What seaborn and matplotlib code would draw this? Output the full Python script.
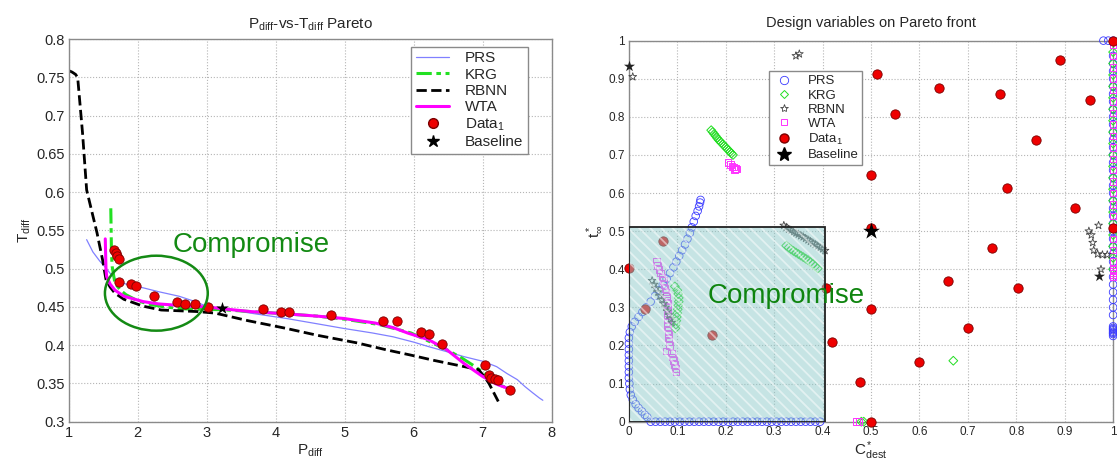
import matplotlib
matplotlib.use("Agg")
import matplotlib.pyplot as plt
import seaborn as sns
import pandas as pd
from matplotlib.lines import Line2D
from matplotlib.patches import Ellipse, Rectangle
from matplotlib.ticker import FormatStrFormatter, MultipleLocator

# ---------------- Left panel data: P_diff vs T_diff ----------------
prs_x = [1.26, 1.35, 1.45, 1.52, 1.60, 1.72, 1.90, 2.08, 2.30, 2.60, 2.80, 3.00, 3.30, 3.63, 4.15, 4.60,
         4.98, 5.40, 5.70, 6.00, 6.22, 6.50, 6.73, 7.00, 7.20, 7.35, 7.50, 7.61, 7.72, 7.82, 7.87]
prs_y = [0.538, 0.522, 0.510, 0.503, 0.494, 0.483, 0.478, 0.475, 0.470, 0.464, 0.458, 0.451, 0.447, 0.442,
         0.435, 0.428, 0.422, 0.416, 0.411, 0.404, 0.398, 0.391, 0.385, 0.379, 0.372, 0.363, 0.355, 0.346,
         0.338, 0.331, 0.328]

krg_x = [1.61, 1.615, 1.62, 1.63, 1.67, 1.75, 1.83, 2.00, 2.19, 2.40, 2.60, 2.80, 3.00, 3.30, 3.63, 4.15,
         4.60, 5.00, 5.50, 5.96, 6.20, 6.48, 6.70, 6.89, 7.10, 7.25, 7.35]
krg_y = [0.579, 0.550, 0.520, 0.503, 0.481, 0.472, 0.466, 0.458, 0.453, 0.450, 0.448, 0.447, 0.447, 0.446,
         0.444, 0.441, 0.438, 0.434, 0.427, 0.416, 0.406, 0.394, 0.383, 0.372, 0.358, 0.348, 0.344]

rbnn_x = [1.00, 1.05, 1.10, 1.13, 1.20, 1.26, 1.34, 1.41, 1.49, 1.54, 1.60, 1.67, 1.80, 2.08, 2.34, 2.60,
          2.86, 3.12, 3.60, 4.15, 4.60, 5.18, 5.60, 5.96, 6.30, 6.73, 6.94, 7.03, 7.09, 7.17, 7.25]
rbnn_y = [0.759, 0.757, 0.754, 0.750, 0.678, 0.603, 0.573, 0.547, 0.512, 0.486, 0.476, 0.468, 0.460, 0.451,
          0.446, 0.445, 0.444, 0.442, 0.432, 0.422, 0.413, 0.403, 0.394, 0.387, 0.380, 0.372, 0.368, 0.358,
          0.350, 0.336, 0.322]

wta_x = [1.53, 1.535, 1.54, 1.55, 1.60, 1.67, 1.80, 2.08, 2.30, 2.60, 3.00, 3.30, 3.63, 4.15, 4.60, 4.98,
         5.44, 5.70, 5.91, 6.22, 6.48, 6.73, 7.00, 7.20, 7.35]
wta_y = [0.539, 0.520, 0.500, 0.490, 0.480, 0.472, 0.464, 0.457, 0.454, 0.452, 0.450, 0.447, 0.444, 0.441,
         0.438, 0.435, 0.429, 0.423, 0.416, 0.407, 0.394, 0.376, 0.359, 0.349, 0.344]

data1_x = [1.66, 1.68, 1.70, 1.73, 1.73, 1.91, 1.97, 2.23, 2.57, 2.68, 2.83, 3.02, 3.82, 4.08, 4.19, 4.80,
           5.55, 5.75, 6.11, 6.22, 6.41, 7.03, 7.09, 7.12, 7.17, 7.22, 7.40]
data1_y = [0.525, 0.521, 0.517, 0.513, 0.482, 0.480, 0.477, 0.464, 0.457, 0.454, 0.454, 0.450, 0.447, 0.443,
           0.443, 0.439, 0.432, 0.431, 0.417, 0.414, 0.401, 0.374, 0.361, 0.357, 0.356, 0.354, 0.342]

base_x = [3.22]
base_y = [0.448]

# ---------------- Right panel data: design variables ----------------
prs_r_x = [0.045, 0.055, 0.065, 0.075, 0.085, 0.095, 0.105, 0.115, 0.125, 0.135, 0.145, 0.155, 0.165, 0.175,
           0.185, 0.195, 0.205, 0.215, 0.225, 0.235, 0.245, 0.255, 0.265, 0.275, 0.285, 0.295, 0.305, 0.315,
           0.325, 0.335, 0.345, 0.355, 0.365, 0.375, 0.385, 0.395,
           0.038, 0.033, 0.027, 0.020, 0.014, 0.008, 0.004, 0.002, 0.001, 0.000, 0.000, 0.000, 0.000, 0.000,
           0.000, 0.000, 0.000, 0.002, 0.006, 0.012, 0.020, 0.028, 0.036, 0.045, 0.054, 0.062, 0.070, 0.078,
           0.085, 0.092, 0.098, 0.104, 0.110, 0.116, 0.121, 0.126, 0.130, 0.134, 0.138, 0.142, 0.145, 0.147,
           0.148,
           1.0, 1.0, 1.0, 1.0, 1.0, 1.0, 1.0, 1.0, 1.0, 1.0, 1.0, 1.0, 1.0, 1.0, 1.0, 1.0, 1.0, 1.0, 1.0,
           1.0, 1.0, 1.0, 1.0, 1.0, 1.0, 1.0, 1.0, 1.0, 1.0, 1.0, 1.0, 1.0, 1.0, 1.0, 1.0, 1.0, 1.0, 1.0,
           1.0, 1.0, 1.0, 1.0, 1.0, 1.0,
           0.98, 0.99]
prs_r_y = [0.0] * 36 + \
          [0.012, 0.018, 0.027, 0.036, 0.046, 0.058, 0.070, 0.085, 0.100, 0.115, 0.130, 0.145, 0.160, 0.175,
           0.190, 0.205, 0.220, 0.235, 0.250, 0.262, 0.275, 0.288, 0.300, 0.315, 0.330, 0.345, 0.360, 0.375,
           0.390, 0.405, 0.420, 0.435, 0.450, 0.465, 0.480, 0.495, 0.510, 0.525, 0.540, 0.553, 0.565, 0.575,
           0.582,
           0.225, 0.230, 0.233, 0.236, 0.240, 0.243, 0.246, 0.250, 0.280, 0.300, 0.320, 0.340, 0.360, 0.380,
           0.400, 0.420, 0.440, 0.460, 0.480, 0.500, 0.520, 0.540, 0.560, 0.580, 0.600, 0.620, 0.640, 0.660,
           0.680, 0.700, 0.720, 0.740, 0.760, 0.780, 0.800, 0.820, 0.840, 0.860, 0.880, 0.900, 0.920, 0.940,
           0.960, 1.000,
           1.0, 1.0]

krg_r_x = [0.170, 0.173, 0.176, 0.179, 0.182, 0.185, 0.188, 0.191, 0.194, 0.197, 0.200, 0.203, 0.206, 0.209,
           0.212, 0.215,
           0.325, 0.330, 0.335, 0.340, 0.345, 0.350, 0.355, 0.360, 0.365, 0.370, 0.375, 0.380, 0.385, 0.390,
           0.095, 0.100, 0.102, 0.103, 0.103, 0.102, 0.101, 0.100, 0.099, 0.098, 0.097, 0.096,
           0.670, 0.480, 0.485,
           1.0, 1.0, 1.0, 1.0, 1.0, 1.0, 1.0, 1.0, 1.0, 1.0, 1.0, 1.0, 1.0, 1.0, 1.0, 1.0, 1.0, 1.0, 1.0, 1.0]
krg_r_y = [0.765, 0.760, 0.755, 0.750, 0.745, 0.740, 0.736, 0.732, 0.728, 0.724, 0.720, 0.716, 0.712, 0.708,
           0.704, 0.700,
           0.462, 0.457, 0.452, 0.448, 0.444, 0.440, 0.436, 0.432, 0.428, 0.424, 0.419, 0.414, 0.408, 0.402,
           0.355, 0.345, 0.335, 0.325, 0.315, 0.305, 0.295, 0.285, 0.275, 0.265, 0.255, 0.245,
           0.160, 0.000, 0.000,
           0.40, 0.43, 0.46, 0.49, 0.52, 0.55, 0.58, 0.61, 0.64, 0.67, 0.70, 0.73, 0.76, 0.79, 0.82, 0.85,
           0.88, 0.91, 0.94, 0.97]

rbnn_r_x = [0.320, 0.325, 0.330, 0.335, 0.340, 0.345, 0.350, 0.355, 0.360, 0.365, 0.370, 0.375, 0.380, 0.385,
            0.390, 0.395, 0.400, 0.405,
            0.048, 0.052, 0.056, 0.060, 0.064, 0.068, 0.072, 0.076, 0.080, 0.083, 0.086, 0.089,
            0.345, 0.352, 0.008, 0.950, 0.970, 0.955, 0.958, 0.960, 0.968, 0.978, 0.988, 0.975]
rbnn_r_y = [0.515, 0.510, 0.505, 0.502, 0.498, 0.495, 0.492, 0.488, 0.485, 0.481, 0.477, 0.473, 0.469, 0.465,
            0.461, 0.457, 0.453, 0.449,
            0.370, 0.360, 0.350, 0.340, 0.330, 0.320, 0.310, 0.300, 0.290, 0.280, 0.270, 0.260,
            0.960, 0.965, 0.905, 0.500, 0.515, 0.490, 0.470, 0.450, 0.440, 0.438, 0.438, 0.400]

wta_r_x = [0.205, 0.210, 0.213, 0.216, 0.220, 0.222, 0.218,
           0.057, 0.059, 0.062, 0.065, 0.068, 0.071, 0.073, 0.075, 0.077, 0.078, 0.079, 0.080, 0.080, 0.080,
           0.080, 0.080, 0.080, 0.080, 0.081, 0.082, 0.082, 0.083, 0.084, 0.078, 0.088, 0.090, 0.092, 0.094,
           0.096, 0.097,
           0.470, 0.475,
           1.0, 1.0, 1.0, 1.0, 1.0, 1.0, 1.0, 1.0, 1.0, 1.0, 1.0, 1.0, 1.0, 1.0, 1.0, 1.0, 1.0, 1.0, 1.0,
           1.0, 1.0, 1.0, 1.0, 1.0, 1.0]
wta_r_y = [0.680, 0.675, 0.670, 0.668, 0.665, 0.663, 0.662,
           0.420, 0.410, 0.400, 0.390, 0.380, 0.370, 0.360, 0.350, 0.340, 0.330, 0.320, 0.310, 0.300, 0.290,
           0.280, 0.270, 0.260, 0.250, 0.240, 0.230, 0.220, 0.210, 0.200, 0.185, 0.180, 0.170, 0.160, 0.150,
           0.140, 0.130,
           0.000, 0.000,
           0.380, 0.385, 0.390, 0.395, 0.400, 0.420, 0.450, 0.480, 0.510, 0.540, 0.570, 0.600, 0.630, 0.660,
           0.690, 0.720, 0.750, 0.780, 0.810, 0.840, 0.870, 0.900, 0.930, 0.960, 0.990]

data1_r_x = [0.512, 0.640, 0.890, 0.767, 0.952, 0.549, 0.840, 0.500, 0.781, 0.922, 0.500, 0.750, 0.660, 0.803,
             0.407, 0.500, 0.701, 0.420, 0.600, 0.477, 0.500, 1.000, 1.000,
             0.071, 0.000, 0.033, 0.172]
data1_r_y = [0.912, 0.877, 0.948, 0.860, 0.843, 0.807, 0.738, 0.647, 0.612, 0.561, 0.509, 0.455, 0.368, 0.351,
             0.351, 0.297, 0.245, 0.210, 0.157, 0.105, 0.000, 1.000, 0.509,
             0.474, 0.404, 0.297, 0.227]

base_r_x = [0.500]
base_r_y = [0.500]
base_small_x = [0.970, 0.001]
base_small_y = [0.382, 0.934]

# ---------------- Styling ----------------
sns.set_style("white")
plt.rcParams["font.family"] = ["Liberation Sans", "DejaVu Sans"]
plt.rcParams["mathtext.fontset"] = "custom"
plt.rcParams["mathtext.rm"] = "Liberation Sans"
plt.rcParams["mathtext.it"] = "Liberation Sans:italic"
plt.rcParams["mathtext.bf"] = "Liberation Sans:bold"
plt.rcParams["hatch.linewidth"] = 1.3

fig = plt.figure(figsize=(11.17, 4.67), dpi=100)
ax1 = fig.add_axes([0.0615, 0.097, 0.4325, 0.819])
ax2 = fig.add_axes([0.563, 0.097, 0.4335, 0.816])

SPINE = "#8a8a8a"
KRG_DASH = (5, 1.5, 1.5, 1.5)


def style_axes(ax, tsize):
    for s in ax.spines.values():
        s.set_color(SPINE)
        s.set_linewidth(1.0)
        s.set_visible(True)
    ax.grid(True, linestyle=":", color="#b5b5b5", linewidth=0.8)
    ax.set_axisbelow(True)
    ax.tick_params(direction="in", length=3, color=SPINE, labelsize=tsize, pad=3,
                   top=False, right=False)


# ---------------- Left panel ----------------
sns.lineplot(x=prs_x, y=prs_y, ax=ax1, sort=False, estimator=None, color="#8080ff", linewidth=0.9)
sns.lineplot(x=krg_x, y=krg_y, ax=ax1, sort=False, estimator=None, color="#22e022", linewidth=2.2,
             dashes=False)
ax1.lines[-1].set_dashes(KRG_DASH)
sns.lineplot(x=rbnn_x, y=rbnn_y, ax=ax1, sort=False, estimator=None, color="black", linewidth=2.0,
             linestyle="--")
sns.lineplot(x=wta_x, y=wta_y, ax=ax1, sort=False, estimator=None, color="#ff00ff", linewidth=2.2)
sns.scatterplot(x=data1_x, y=data1_y, ax=ax1, color="#ee0000", edgecolor="#7a0000", linewidth=0.6,
                s=45, zorder=5)
sns.scatterplot(x=base_x, y=base_y, ax=ax1, color="black", marker="*", s=90, linewidth=0, zorder=6)

ax1.add_patch(Ellipse((2.27, 0.468), 1.49, 0.098, fill=False, edgecolor="#148a14", linewidth=1.8, zorder=7))
ax1.text(2.5, 0.531, "Compromise", color="#138a13", fontsize=20, va="center", ha="left", zorder=8)

ax1.set_xlim(1, 8)
ax1.set_ylim(0.3, 0.8)
ax1.xaxis.set_major_locator(MultipleLocator(1))
ax1.yaxis.set_major_locator(MultipleLocator(0.05))
ax1.yaxis.set_major_formatter(FormatStrFormatter("%g"))
style_axes(ax1, 10.5)
ax1.set_title(r"P$_{\rm diff}$-vs-T$_{\rm diff}$ Pareto", fontsize=11, pad=8)
ax1.set_xlabel(r"P$_{\rm diff}$", fontsize=11, labelpad=2)
ax1.set_ylabel(r"T$_{\rm diff}$", fontsize=11, labelpad=2)

h1 = [
    Line2D([], [], color="#8080ff", linewidth=0.9, label="PRS"),
    Line2D([], [], color="#22e022", linewidth=2.2, dashes=KRG_DASH, label="KRG"),
    Line2D([], [], color="black", linewidth=2.0, linestyle="--", label="RBNN"),
    Line2D([], [], color="#ff00ff", linewidth=2.2, label="WTA"),
    Line2D([], [], color="none", marker="o", markerfacecolor="#ee0000", markeredgecolor="#7a0000",
           markersize=7, label=r"Data$_1$"),
    Line2D([], [], color="none", marker="*", markerfacecolor="black", markeredgecolor="black",
           markersize=9, label="Baseline"),
]
leg1 = ax1.legend(handles=h1, loc="upper right", bbox_to_anchor=(0.95, 0.98), fontsize=11,
                  frameon=True, fancybox=False, framealpha=1, edgecolor=SPINE, handlelength=2.2,
                  borderpad=0.3, labelspacing=0.15, handletextpad=1.0, borderaxespad=0)
leg1.get_frame().set_linewidth(1.0)

# ---------------- Right panel ----------------
sns.scatterplot(x=prs_r_x, y=prs_r_y, ax=ax2, marker="o", facecolor="none", edgecolor="#3a3aff",
                linewidth=0.6, s=30, zorder=3, clip_on=False)
sns.scatterplot(x=krg_r_x, y=krg_r_y, ax=ax2, marker="D", facecolor="none", edgecolor="#22dd22",
                linewidth=0.7, s=20, zorder=3, clip_on=False)
sns.scatterplot(x=wta_r_x, y=wta_r_y, ax=ax2, marker="s", facecolor="none", edgecolor="#ff33ff",
                linewidth=0.7, s=22, zorder=3, clip_on=False)
sns.scatterplot(x=rbnn_r_x, y=rbnn_r_y, ax=ax2, marker="*", facecolor="none", edgecolor="#444444",
                linewidth=0.6, s=35, zorder=3, clip_on=False)
sns.scatterplot(x=data1_r_x, y=data1_r_y, ax=ax2, color="#ee0000", edgecolor="#7a0000", linewidth=0.6,
                s=45, zorder=4, clip_on=False)
sns.scatterplot(x=base_r_x, y=base_r_y, ax=ax2, color="black", marker="*", s=160, linewidth=0, zorder=4)
sns.scatterplot(x=base_small_x, y=base_small_y, ax=ax2, color="#222222", marker="*", s=70, linewidth=0,
                zorder=4, clip_on=False)

ax2.add_patch(Rectangle((0, 0), 0.405, 0.51, facecolor="#8fcaca", edgecolor="white", hatch="\\\\\\",
                        linewidth=0, alpha=0.5, zorder=5))
ax2.add_patch(Rectangle((0, 0), 0.405, 0.51, fill=False, edgecolor="#202020", linewidth=1.3, zorder=6))
ax2.text(0.162, 0.33, "Compromise", color="#0e840e", fontsize=20, va="center", ha="left", zorder=8)

ax2.set_xlim(0, 1)
ax2.set_ylim(0, 1)
ax2.xaxis.set_major_locator(MultipleLocator(0.1))
ax2.yaxis.set_major_locator(MultipleLocator(0.1))
ax2.xaxis.set_major_formatter(FormatStrFormatter("%g"))
ax2.yaxis.set_major_formatter(FormatStrFormatter("%g"))
style_axes(ax2, 8.5)
ax2.set_title("Design variables on Pareto front", fontsize=10.5, pad=10)
ax2.set_xlabel(r"C$^*_{\rm dest}$", fontsize=11, labelpad=1)
ax2.set_ylabel(r"t$^*_\infty$", fontsize=11, labelpad=2)

h2 = [
    Line2D([], [], color="none", marker="o", markerfacecolor="none", markeredgecolor="#3a3aff",
           markeredgewidth=0.6, markersize=6, label="PRS"),
    Line2D([], [], color="none", marker="D", markerfacecolor="none", markeredgecolor="#22dd22",
           markeredgewidth=0.7, markersize=4.5, label="KRG"),
    Line2D([], [], color="none", marker="*", markerfacecolor="none", markeredgecolor="#444444",
           markeredgewidth=0.6, markersize=6, label="RBNN"),
    Line2D([], [], color="none", marker="s", markerfacecolor="none", markeredgecolor="#ff33ff",
           markeredgewidth=0.7, markersize=4.5, label="WTA"),
    Line2D([], [], color="none", marker="o", markerfacecolor="#ee0000", markeredgecolor="#7a0000",
           markersize=6.5, label=r"Data$_1$"),
    Line2D([], [], color="none", marker="*", markerfacecolor="black", markeredgecolor="black",
           markersize=10, label="Baseline"),
]
leg2 = ax2.legend(handles=h2, loc="upper left", bbox_to_anchor=(0.29, 0.92), fontsize=9.5,
                  frameon=True, fancybox=False, framealpha=1, edgecolor=SPINE, handlelength=1.6,
                  borderpad=0.3, labelspacing=0.15, handletextpad=1.0, borderaxespad=0)
leg2.get_frame().set_linewidth(1.0)
leg2.set_zorder(10)

fig.savefig("out.png", dpi=100)
